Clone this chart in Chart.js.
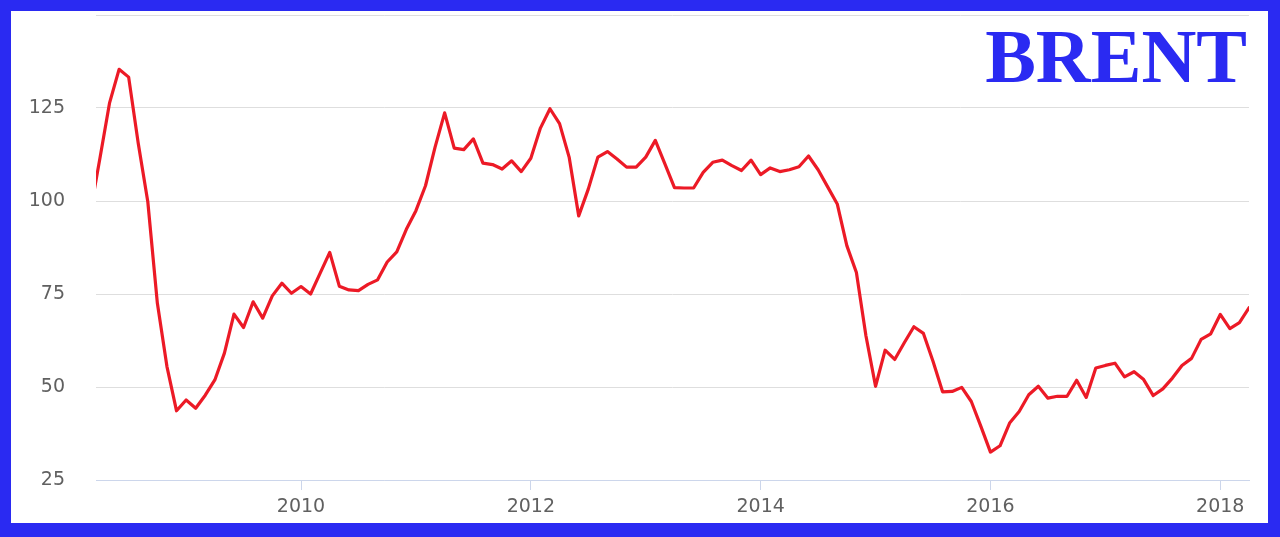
<!doctype html>
<html lang="en">
<head>
  <meta charset="utf-8">
  <title>Brent</title>
  <script src="https://cdn.jsdelivr.net/npm/chart.js@4/dist/chart.umd.min.js"></script>
  <style>
    html, body { margin: 0; padding: 0; }
    body { width: 1280px; height: 537px; background: #2a2af2; position: relative; overflow: hidden; }
    .marco { position: absolute; left: 11px; top: 11px; width: 1257px; height: 512px; background: #fff; }
    .titulo { position: absolute; right: 33px; top: 18px; font-family: "Liberation Serif", "Times New Roman", serif;
              font-weight: bold; font-size: 76px; line-height: 76px; color: #2a2af2; }
  </style>
</head>
<body>
<div class="marco">
  <canvas id="myChart" width="1257" height="512"></canvas>
</div>
<div class="titulo">BRENT</div>

<script>
// monthly prices, Mar 2008 .. Apr 2018
var meses = [];
for (var a = 2008; a <= 2018; a++) {
  for (var m = 1; m <= 12; m++) {
    if (a == 2008 && m < 3) continue;
    if (a == 2018 && m > 4) break;
    meses.push(a + "-" + (m < 10 ? "0" + m : m));
  }
}
var precios = [
  97.0, 111.5, 126.3, 135.4, 133.3, 115.5, 99.8, 72.5, 55.5, 43.6,
  46.5, 44.3, 47.8, 51.9, 59.1, 69.6, 66.0, 72.9, 68.5, 74.5, 77.9, 75.2,
  77.0, 75.0, 80.6, 86.2, 77.1, 76.1, 75.9, 77.6, 78.8, 83.6, 86.3, 92.4,
  97.4, 104.1, 114.5, 123.7, 114.2, 113.8, 116.7, 110.2, 109.8, 108.6, 110.8, 107.9,
  111.5, 119.6, 124.8, 120.8, 111.8, 96.0, 103.2, 111.8, 113.3, 111.3, 109.1, 109.1,
  111.8, 116.3, 110.0, 103.6, 103.5, 103.5, 107.7, 110.4, 111.0, 109.5, 108.2, 111.0,
  107.1, 108.9, 107.9, 108.4, 109.2, 112.1, 108.4, 103.8, 99.2, 88.0, 80.8, 63.7,
  50.2, 59.9, 57.4, 61.9, 66.2, 64.4, 56.9, 48.7, 48.8, 49.9, 46.1, 39.4,
  32.5, 34.2, 40.3, 43.4, 47.9, 50.2, 47.0, 47.5, 47.5, 51.8, 47.2, 55.1,
  55.8, 56.4, 52.7, 54.1, 52.0, 47.7, 49.5, 52.4, 55.8, 57.7, 62.8, 64.3,
  69.5, 65.7, 67.3, 71.3
];
var anios = ["2010", "2012", "2014", "2016", "2018"];
var yTicks = [25, 50, 75, 100, 125, 150];

// month number counted from Jan 2008
function mesNum(s) {
  return (parseInt(s.substring(0, 4)) - 2008) * 12 + parseInt(s.substring(5, 7)) - 1;
}
var puntos = meses.map(function (s, i) { return { x: mesNum(s), y: precios[i] }; });
var xTicks = anios.map(function (a) { return mesNum(a + "-01"); });

var ctx = document.getElementById('myChart').getContext('2d');
var myChart = new Chart(ctx, {
  type: 'line',
  data: {
    datasets: [{
      label: 'Brent',
      data: puntos,
      borderColor: '#ec1a26',
      borderWidth: 3.2,
      borderJoinStyle: 'round',
      borderCapStyle: 'round',
      pointRadius: 0,
      tension: 0,
      fill: false
    }]
  },
  options: {
    responsive: false,
    animation: false,
    layout: { padding: { top: 4, right: 19, left: 0, bottom: 0 } },
    plugins: { legend: { display: false }, tooltip: { enabled: false } },
    scales: {
      x: {
        type: 'linear',
        min: 2.59,
        max: 123,
        afterBuildTicks: function (s) { s.ticks = xTicks.map(function (v) { return { value: v }; }); },
        afterFit: function (s) { s.height = 43; s.paddingLeft = 0; s.paddingRight = 0; },
        grid: { drawOnChartArea: false, drawTicks: true, tickLength: 10, color: '#ccd6eb' },
        border: { display: true, color: '#ccd6eb', width: 1 },
        ticks: {
          padding: 6,
          maxRotation: 0,
          color: '#606060',
          font: { family: 'DejaVu Sans', size: 19 },
          callback: function (v) { return anios[xTicks.indexOf(v)]; }
        }
      },
      y: {
        min: 25,
        max: 150,
        afterBuildTicks: function (s) { s.ticks = yTicks.map(function (v) { return { value: v }; }); },
        afterFit: function (s) { s.width = 85; s.paddingTop = 0; s.paddingBottom = 0; },
        grid: { drawTicks: false, color: '#dedede', lineWidth: 1 },
        border: { display: false },
        ticks: {
          padding: 31,
          color: '#606060',
          font: { family: 'DejaVu Sans', size: 19 },
          callback: function (v) { return v == 150 ? '' : v; }
        }
      }
    }
  }
});
</script>
</body>
</html>
